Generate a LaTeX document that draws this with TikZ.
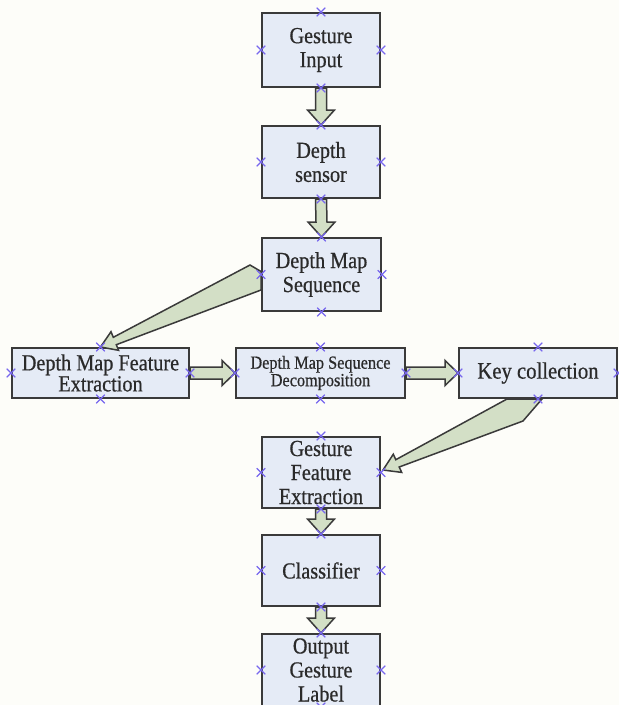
\documentclass[tikz,border=0pt]{standalone}
\usepackage{fontspec}
\setmainfont[FakeStretch=0.88,FakeBold=0.6]{Liberation Serif}
\usetikzlibrary{calc,shapes.misc}
\definecolor{bg}{HTML}{FDFDF9}
\definecolor{boxfill}{HTML}{E5EBF6}
\definecolor{boxline}{HTML}{3A3A3A}
\definecolor{arrfill}{HTML}{D3DFC6}
\definecolor{markc}{HTML}{7766EE}
\definecolor{txt}{HTML}{2A2A2A}
\tikzset{
  procbox/.style={draw=boxline, fill=boxfill, line width=2pt, inner sep=0pt,
    align=center, text=txt, font=\fontsize{23}{24}\selectfont},
  blk/.style={draw=boxline, fill=arrfill, line width=1.5pt, line join=miter},
  xmark/.style={cross out, draw=markc, line width=1.1pt, minimum size=7.5pt, inner sep=0pt},
}
\newcommand\vblock[2]{%
  \draw[blk] ($(#1.south)+(-5.5,0)$) -- ($(#2.north)+(-5.5,-15)$) -- ($(#2.north)+(-13.5,-15)$)
    -- (#2.north) -- ($(#2.north)+(13.5,-15)$) -- ($(#2.north)+(5.5,-15)$)
    -- ($(#1.south)+(5.5,0)$) -- cycle;}
\newcommand\hblock[2]{%
  \draw[blk] ($(#1.east)+(0,-6)$) -- ($(#2.west)+(-13,-6)$) -- ($(#2.west)+(-13,-12.5)$)
    -- (#2.west) -- ($(#2.west)+(-13,12.5)$) -- ($(#2.west)+(-13,6)$)
    -- ($(#1.east)+(0,6)$) -- cycle;}
\begin{document}
\begin{tikzpicture}[x=1pt,y=-1pt]
\useasboundingbox (0,0) rectangle (619,705);
\fill[bg] (0,0) rectangle (619,705);
\clip (0,0) rectangle (619,705);

\node[procbox, minimum width=118, minimum height=74] (gi) at (321,50) {Gesture\\Input};
\node[procbox, minimum width=118, minimum height=72] (ds) at (321,162) {Depth\\sensor};
\node[procbox, minimum width=119, minimum height=73] (dms) at (321.5,274.5) {Depth Map\\Sequence};
\node[procbox, minimum width=177, minimum height=50, font=\fontsize{23}{21}\selectfont] (dmfe) at (100.5,373) {Depth Map Feature\\Extraction};
\node[procbox, minimum width=169, minimum height=50, font=\fontsize{18.5}{17.5}\selectfont] (dmsd) at (320.5,373) {Depth Map Sequence\\Decomposition};
\node[procbox, minimum width=158, minimum height=50, font=\fontsize{23.5}{24}\selectfont] (kc) at (538,373) {Key collection};
\node[procbox, minimum width=118, minimum height=71] (gfe) at (321,472.5) {Gesture\\Feature\\Extraction};
\node[procbox, minimum width=118, minimum height=71] (cl) at (321,570.5) {Classifier};
\node[procbox, minimum width=118, minimum height=72] (ogl) at (321,670) {Output\\Gesture\\Label};

\vblock{gi}{ds}
\vblock{ds}{dms}
\vblock{gfe}{cl}
\vblock{cl}{ogl}
\hblock{dmfe}{dmsd}
\hblock{dmsd}{kc}

% diagonal arrow: Depth Map Sequence -> Depth Map Feature Extraction
\draw[blk] (dmfe.north) -- ($(dmfe.north)+(18.1,3.3)$) -- ($(dmfe.north)+(15.8,-2.3)$)
  -- ($(dms.west)+(0,15.5)$) -- ($(dms.west)+(0,-3)$) -- ($(dms.west)+(-11,-9.5)$)
  -- ($(dmfe.north)+(12.8,-9.7)$) -- ($(dmfe.north)+(10.5,-15.3)$) -- cycle;

% diagonal arrow: Key collection -> Gesture Feature Extraction
\coordinate (gtip) at ($(gfe.east)+(2,-2.5)$);
\draw[blk] (gtip) -- ($(gtip)+(18.7,2.4)$) -- ($(gtip)+(16.2,-3)$)
  -- ($(kc.south)+(-15,22)$) -- ($(kc.south)+(4,0)$) -- ($(kc.south)+(-31,0)$)
  -- ($(gtip)+(12.8,-10.3)$) -- ($(gtip)+(10.3,-15.8)$) -- cycle;

\foreach \n in {gi,ds,dms,dmfe,dmsd,kc,gfe,cl,ogl}
  \foreach \a in {north,south,east,west}
    \node[xmark] (\n-\a) at (\n.\a) {};
\end{tikzpicture}
\end{document}
